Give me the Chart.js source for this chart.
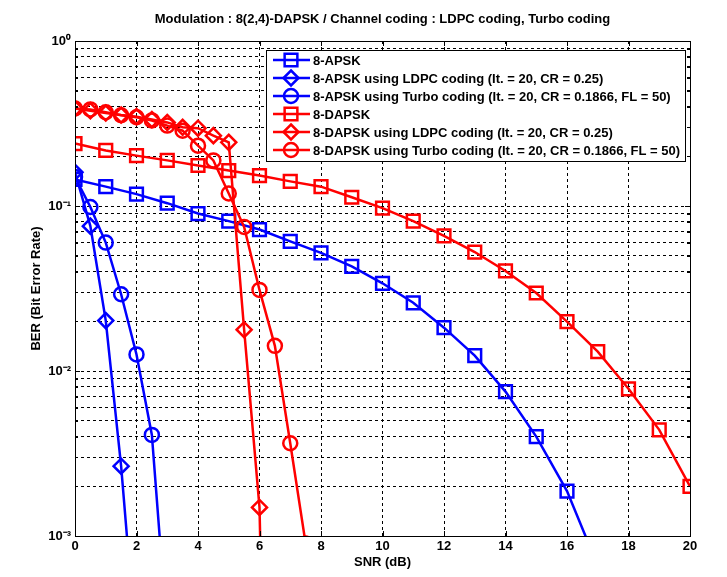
<!DOCTYPE html>
<html>
<head>
<meta charset="utf-8">
<script src="https://cdn.jsdelivr.net/npm/chart.js@4/dist/chart.umd.min.js"></script>
<style>
body { margin: 0; background: #fff; }
canvas { display: block; }
</style>
</head>
<body>
<canvas id="ber_chart" width="727" height="577"></canvas>
<script>
// values (SNR in dB, BER)
var apsk_snr = [0, 1, 2, 3, 4, 5, 6, 7, 8, 9, 10, 11, 12, 13, 14, 15, 16, 17];
var apsk_ber = [0.145, 0.131, 0.118, 0.104, 0.090, 0.081, 0.072, 0.061, 0.052, 0.043, 0.034, 0.0259, 0.0183, 0.0124, 0.0075, 0.0040, 0.00187, 0.00066];

var apsk_ldpc_snr = [0, 0.5, 1, 1.5, 2];
var apsk_ldpc_ber = [0.16, 0.0755, 0.0202, 0.00265, 0.0002];

var apsk_turbo_snr = [0, 0.5, 1, 1.5, 2, 2.5, 3];
var apsk_turbo_ber = [0.15, 0.0986, 0.060, 0.0292, 0.0126, 0.0041, 0.00025];

var dapsk_snr = [0, 1, 2, 3, 4, 5, 6, 7, 8, 9, 10, 11, 12, 13, 14, 15, 16, 17, 18, 19, 20];
var dapsk_ber = [0.239, 0.217, 0.202, 0.189, 0.176, 0.164, 0.153, 0.141, 0.131, 0.113, 0.097, 0.081, 0.066, 0.0526, 0.0404, 0.0297, 0.0199, 0.0131, 0.0078, 0.0044, 0.0020];

var dapsk_ldpc_snr = [0, 0.5, 1, 1.5, 2, 2.5, 3, 3.5, 4, 4.5, 5, 5.5, 6, 6.5];
var dapsk_ldpc_ber = [0.39, 0.378, 0.366, 0.356, 0.348, 0.334, 0.321, 0.300, 0.296, 0.267, 0.243, 0.0178, 0.00149, 0.0000001];

var dapsk_turbo_snr = [0, 0.5, 1, 1.5, 2, 2.5, 3, 3.5, 4, 4.5, 5, 5.5, 6, 6.5, 7, 7.5];
var dapsk_turbo_ber = [0.39, 0.385, 0.37, 0.355, 0.345, 0.33, 0.307, 0.286, 0.232, 0.189, 0.119, 0.0747, 0.031, 0.0142, 0.00365, 0.0009];

var series_labels = [
    '8-APSK',
    '8-APSK using LDPC coding (It. = 20, CR = 0.25)',
    '8-APSK using Turbo coding (It. = 20, CR = 0.1866, FL = 50)',
    '8-DAPSK',
    '8-DAPSK using LDPC coding (It. = 20, CR = 0.25)',
    '8-DAPSK using Turbo coding (It. = 20, CR = 0.1866, FL = 50)'
];
var y_decades = [0.001, 0.01, 0.1, 1];
var y_decade_labels = ['10\u207B\u00B3', '10\u207B\u00B2', '10\u207B\u00B9', '10\u2070'];

var FONT = '"Liberation Sans", Arial, sans-serif';

function to_points(xs, ys) {
    return xs.map(function(x, i) { return {x: x, y: ys[i]}; });
}

function make_set(idx, xs, ys, color, style, radius) {
    return {
        label: series_labels[idx],
        data: to_points(xs, ys),
        borderColor: color,
        borderWidth: 2.5,
        pointStyle: style,
        pointRadius: radius,
        pointBorderWidth: 2.5,
        pointBorderColor: color,
        pointBackgroundColor: 'rgba(0,0,0,0)',
        pointHoverRadius: radius,
        tension: 0,
        fill: false,
        order: 10 - idx
    };
}

function draw_marker(ctx, style, x, y, r) {
    ctx.beginPath();
    if (style === 'rect') {
        var s = r * Math.SQRT1_2;
        ctx.rect(x - s, y - s, 2 * s, 2 * s);
    } else if (style === 'rectRot') {
        ctx.moveTo(x, y - r);
        ctx.lineTo(x + r, y);
        ctx.lineTo(x, y + r);
        ctx.lineTo(x - r, y);
        ctx.closePath();
    } else {
        ctx.arc(x, y, r, 0, Math.PI * 2);
    }
    ctx.stroke();
}

// axes box with inward ticks, like the matlab figure
var frame_box = {
    id: 'frame_box',
    afterDatasetsDraw: function(chart) {
        var ctx = chart.ctx, a = chart.chartArea;
        var xs = chart.scales.x, ys = chart.scales.y;
        ctx.save();
        ctx.strokeStyle = '#000';
        ctx.lineWidth = 1;
        ctx.strokeRect(Math.round(a.left) + 0.5, Math.round(a.top) + 0.5, Math.round(a.right - a.left), Math.round(a.bottom - a.top));
        ctx.beginPath();
        xs.ticks.forEach(function(t) {
            var px = Math.round(xs.getPixelForValue(t.value)) + 0.5;
            ctx.moveTo(px, a.bottom); ctx.lineTo(px, a.bottom - 5);
            ctx.moveTo(px, a.top); ctx.lineTo(px, a.top + 5);
        });
        ys.ticks.forEach(function(t) {
            var py = Math.round(ys.getPixelForValue(t.value)) + 0.5;
            var len = y_decades.indexOf(t.value) >= 0 ? 5 : 3;
            ctx.moveTo(a.left, py); ctx.lineTo(a.left + len, py);
            ctx.moveTo(a.right, py); ctx.lineTo(a.right - len, py);
        });
        ctx.stroke();
        ctx.restore();
    }
};

var legend_box = {
    id: 'legend_box',
    afterDraw: function(chart) {
        var ctx = chart.ctx, a = chart.chartArea;
        var sets = chart.data.datasets;
        var w = 419, h = 111, row_h = 18;
        var x0 = Math.round(a.right - 5 - w), y0 = Math.round(a.top + 9);
        ctx.save();
        ctx.fillStyle = '#fff';
        ctx.fillRect(x0, y0, w, h);
        ctx.strokeStyle = '#000';
        ctx.lineWidth = 1;
        ctx.strokeRect(x0 + 0.5, y0 + 0.5, w, h);
        ctx.font = 'bold 13px ' + FONT;
        ctx.textBaseline = 'middle';
        sets.forEach(function(ds, i) {
            var cy = y0 + 10 + i * row_h;
            ctx.strokeStyle = ds.borderColor;
            ctx.lineWidth = 2.5;
            ctx.beginPath();
            ctx.moveTo(x0 + 7, cy);
            ctx.lineTo(x0 + 44, cy);
            ctx.stroke();
            draw_marker(ctx, ds.pointStyle, x0 + 25, cy, ds.pointRadius);
            ctx.fillStyle = '#000';
            ctx.fillText(ds.label, x0 + 47, cy + 1);
        });
        ctx.restore();
    }
};

var datasets = [
    make_set(0, apsk_snr, apsk_ber, '#0000ff', 'rect', 9),
    make_set(1, apsk_ldpc_snr, apsk_ldpc_ber, '#0000ff', 'rectRot', 7.5),
    make_set(2, apsk_turbo_snr, apsk_turbo_ber, '#0000ff', 'circle', 7),
    make_set(3, dapsk_snr, dapsk_ber, '#ff0000', 'rect', 9),
    make_set(4, dapsk_ldpc_snr, dapsk_ldpc_ber, '#ff0000', 'rectRot', 7.5),
    make_set(5, dapsk_turbo_snr, dapsk_turbo_ber, '#ff0000', 'circle', 7)
];

new Chart(document.getElementById('ber_chart'), {
    type: 'line',
    data: {datasets: datasets},
    options: {
        responsive: false,
        animation: false,
        layout: {padding: {left: 0, right: 37, top: 0, bottom: 0}},
        scales: {
            x: {
                type: 'linear',
                min: 0,
                max: 20,
                ticks: {stepSize: 2, color: '#000', padding: 2.5, maxRotation: 0, font: {family: FONT, size: 13, weight: 'bold'}},
                grid: {color: '#000', lineWidth: 1, drawTicks: false},
                border: {display: false, dash: [3, 3]},
                title: {display: true, text: 'SNR (dB)', color: '#000', padding: {top: 0, bottom: 6.5}, font: {family: FONT, size: 13, weight: 'bold'}},
                afterFit: function(scale) { scale.height = 41; }
            },
            y: {
                type: 'logarithmic',
                min: 0.001,
                max: 1,
                afterBuildTicks: function(scale) {
                    var list = [];
                    y_decades.forEach(function(d, i) {
                        if (i === y_decades.length - 1) { list.push({value: d}); return; }
                        for (var k = 1; k < 10; k++) list.push({value: +(d * k).toPrecision(3)});
                    });
                    scale.ticks = list;
                },
                ticks: {
                    color: '#000',
                    padding: 4,
                    autoSkip: false,
                    font: {family: FONT, size: 13, weight: 'bold'},
                    callback: function(val) {
                        var i = y_decades.indexOf(val);
                        return i >= 0 ? y_decade_labels[i] : '';
                    }
                },
                grid: {color: '#000', lineWidth: 1, drawTicks: false},
                border: {display: false, dash: [3, 3]},
                title: {display: true, text: 'BER (Bit Error Rate)', color: '#000', padding: {top: 29, bottom: 0}, font: {family: FONT, size: 13, weight: 'bold'}},
                afterFit: function(scale) { scale.width = 75; }
            }
        },
        plugins: {
            legend: {display: false},
            tooltip: {enabled: false},
            title: {
                display: true,
                fullSize: false,
                text: 'Modulation : 8(2,4)-DAPSK / Channel coding : LDPC coding, Turbo coding',
                color: '#000',
                padding: {top: 12, bottom: 13.4},
                font: {family: FONT, size: 13, weight: 'bold'}
            }
        }
    },
    plugins: [frame_box, legend_box]
});
</script>
</body>
</html>
